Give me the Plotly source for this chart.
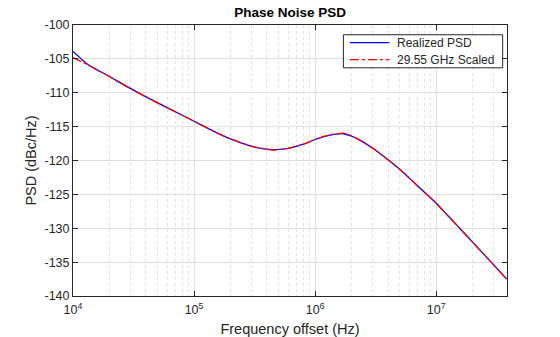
import plotly.graph_objects as go

freq = [1e4, 1.09e4, 1.2e4, 1.32e4, 1.5e4, 1.82e4, 2e4, 3e4, 5e4, 7e4, 1e5, 1.5e5, 2e5,
        3e5, 4.5e5, 6e5, 8e5, 1e6, 1.3e6, 1.7e6, 2e6, 2.4e6, 3e6, 4e6, 5e6, 6e6, 8e6,
        1e7, 1.2e7, 1.5e7, 2e7, 3e7, 3.82e7]
realized = [-103.9, -104.5, -105.2, -105.8, -106.4, -107.2, -107.6, -109.4, -111.5,
            -112.8, -114.2, -115.8, -116.8, -117.9, -118.4, -118.2, -117.6, -116.9,
            -116.3, -116.05, -116.4, -117.1, -118.2, -119.9, -121.3, -122.6, -124.7,
            -126.3, -127.8, -129.65, -132.05, -135.45, -137.5]
scaled = [-104.8, -105.15, -105.5, -105.85, -106.4, -107.2, -107.6, -109.4, -111.5,
          -112.8, -114.2, -115.8, -116.8, -117.9, -118.45, -118.2, -117.6, -116.9,
          -116.25, -115.95, -116.35, -117.1, -118.2, -119.9, -121.3, -122.6, -124.7,
          -126.3, -127.8, -129.65, -132.05, -135.45, -137.5]
names = ["Realized PSD", "29.55 GHz Scaled"]
colors = ["#0000ff", "#ff0000"]
dashes = ["solid", "dashdot"]

x_major = [1e4, 1e5, 1e6, 1e7]
x_major_text = ["10<sup>4</sup>", "10<sup>5</sup>", "10<sup>6</sup>", "10<sup>7</sup>"]
x_minor = [m * 10 ** e for e in range(4, 8) for m in range(2, 10)]
y_ticks = [-140, -135, -130, -125, -120, -115, -110, -105, -100]
y_text = [str(v) for v in y_ticks]

fig = go.Figure()
for ys, nm, c, d in zip([realized, scaled], names, colors, dashes):
    fig.add_trace(go.Scatter(x=freq, y=ys, mode="lines", name=nm, showlegend=False,
                             line=dict(color=c, width=1.3, dash=d, shape="spline",
                                       smoothing=0.6)))

# legend box (MATLAB-style compact legend)
shapes = [dict(type="rect", xref="paper", yref="paper", x0=0.623, x1=0.990,
               y0=0.842, y1=0.964, line=dict(color="#262626", width=1),
               fillcolor="white", layer="above")]
annotations = []
for yp, nm, c, d in zip([0.935, 0.872], names, colors, dashes):
    shapes.append(dict(type="line", xref="paper", yref="paper", x0=0.638, x1=0.729,
                       y0=yp, y1=yp, line=dict(color=c, width=1.3, dash=d), layer="above"))
    annotations.append(dict(text=nm, xref="paper", yref="paper", x=0.743, y=yp,
                            xanchor="left", yanchor="middle", showarrow=False,
                            font=dict(size=12, color="#262626")))

font = "Liberation Sans, Arial, Helvetica, sans-serif"
fig.update_layout(
    width=560, height=337,
    margin=dict(l=73, r=53, t=25, b=41),
    paper_bgcolor="white", plot_bgcolor="white",
    font=dict(family=font, size=12.5, color="#262626"),
    title=dict(text="<b>Phase Noise PSD</b>", x=0.518, xanchor="center", y=0.963,
               yanchor="middle", font=dict(size=13.5, color="black")),
    showlegend=False,
    shapes=shapes, annotations=annotations,
    xaxis=dict(type="log", range=[4, 7.585], tickvals=x_major, ticktext=x_major_text,
               automargin=False,
               showline=True, linecolor="#262626", linewidth=1, mirror="ticks",
               ticks="inside", ticklen=5, tickcolor="#262626", ticklabelstandoff=2,
               showgrid=True, gridcolor="#dfdfdf", gridwidth=1, zeroline=False,
               minor=dict(tickvals=x_minor, showgrid=True, gridcolor="#e2e2e2",
                          griddash="dot", gridwidth=1, ticks=""),
               title=dict(text="Frequency offset (Hz)", font=dict(size=14.5, color="#262626"),
                          standoff=16)),
    yaxis=dict(range=[-140, -100], tickvals=y_ticks, ticktext=y_text,
               showline=True, linecolor="#262626", linewidth=1, mirror="ticks",
               ticks="inside", ticklen=5, tickcolor="#262626",
               showgrid=True, gridcolor="#dfdfdf", gridwidth=1, zeroline=False,
               title=dict(text="PSD (dBc/Hz)", font=dict(size=14.5, color="#262626"),
                          standoff=4)),
)

fig.write_html("out.html")
